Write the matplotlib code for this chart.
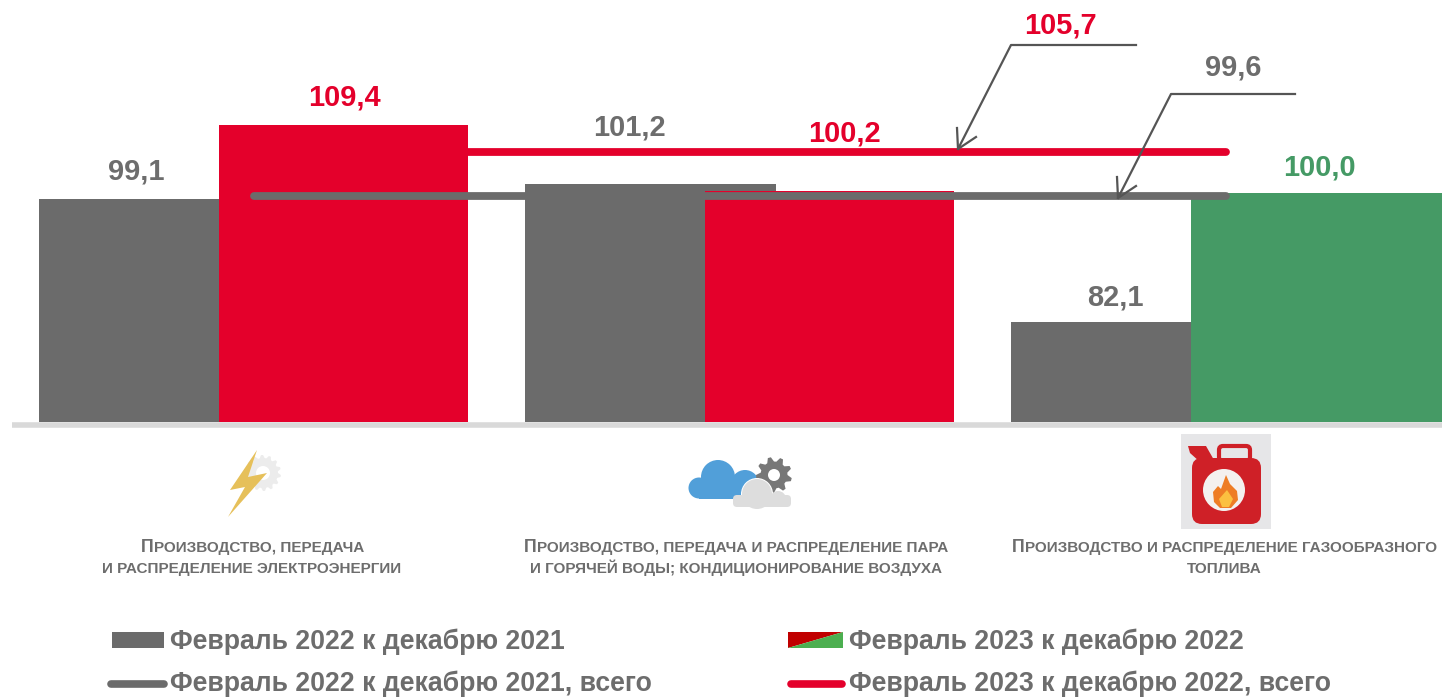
import numpy as np
import matplotlib
matplotlib.use("Agg")
import matplotlib.pyplot as plt
from matplotlib.patches import Polygon, Circle, Rectangle, FancyBboxPatch

plt.rcParams['font.family'] = ['Liberation Sans', 'DejaVu Sans']

# data
groups = [0, 1, 2]
gray_values = [99.1, 101.2, 82.1]
color_values = [109.4, 100.2, 100.0]
gray_labels = ['99,1', '101,2', '82,1']
color_labels = ['109,4', '100,2', '100,0']
total_2022 = 99.6
total_2023 = 105.7
total_2022_label = '99,6'
total_2023_label = '105,7'
legend_labels = ['Февраль 2022 к декабрю 2021', 'Февраль 2023 к декабрю 2022',
                 'Февраль 2022 к декабрю 2021, всего', 'Февраль 2023 к декабрю 2022, всего']
category_lines = [['Производство, передача', 'и распределение электроэнергии'],
                  ['Производство, передача и распределение пара', 'и горячей воды; кондиционирование воздуха'],
                  ['Производство и распределение газообразного', 'топлива']]

GRAY = '#6b6b6b'
RED = '#e4002b'
GREEN = '#459a65'
TEXT = '#6d6d6d'
bar_colors = [RED, RED, GREEN]

fig = plt.figure(figsize=(14.42, 6.97), dpi=100)

# value axes: x in category steps, y in index values
ax = fig.add_axes([0, 0, 1, 1])
step = 486
x0 = 164.5
ax.set_xlim(-x0 / step, (1442 - x0) / step)
ax.set_ylim(100 - 504.2 / 7.23, 100 + 192.8 / 7.23)
ax.axis('off')

base = 100 - 229.2 / 7.23
x = np.array(groups)
ax.bar(x, np.array(gray_values) - base, 251 / step, bottom=base, color=GRAY, zorder=2)
ax.bar(x + 54.5 / step, np.array(color_values) - base, np.array([249, 249, 251]) / step, bottom=base,
       align='edge', color=bar_colors, zorder=3)
ax.plot([(254 - x0) / step, (1226 - x0) / step], [total_2022, total_2022],
        color=GRAY, lw=5.6, solid_capstyle='round', zorder=5)
ax.plot([(468 - x0) / step, (1226 - x0) / step], [total_2023, total_2023],
        color=RED, lw=5.6, solid_capstyle='round', zorder=4)

# overlay in pixels for text, callouts and icons
ov = fig.add_axes([0, 0, 1, 1])
ov.set_xlim(0, 1442)
ov.set_ylim(697, 0)
ov.axis('off')
ov.patch.set_alpha(0)

ov.plot([12, 1442], [425, 425], color='#d9d9d9', lw=4, solid_capstyle='butt', zorder=1)

lab = dict(fontsize=20.9, fontweight='bold', ha='center', va='center')
for xp, yp, s in zip([136, 629, 1115], [171, 128, 297], gray_labels):
    ov.text(xp, yp, s, color=TEXT, **lab)
for xp, yp, s, c in zip([344, 844, 1319], [97, 134, 168], color_labels, bar_colors):
    ov.text(xp, yp, s, color=c, **lab)
ov.text(1060, 25, total_2023_label, color=RED, **lab)
ov.text(1233, 67, total_2022_label, color=TEXT, **lab)

# callouts
ov.plot([1136, 1011, 958], [45, 45, 149], color='#555555', lw=1.6, zorder=6)
ov.plot([1295, 1171, 1118], [94, 94, 198], color='#555555', lw=1.6, zorder=6)
for tipx, tipy in [(958, 149), (1118, 198)]:
    ov.plot([tipx - 1, tipx, tipx + 18], [tipy - 21, tipy, tipy - 12], color='#555555', lw=1.6, zorder=6)


def caps_line(xc, y, s, big_first):
    # fake small caps, first letter bigger
    parts = []
    r = fig.canvas.get_renderer()
    if big_first:
        parts.append(ov.text(xc, y, s[0].upper(), fontsize=12.7, fontweight='bold', color=TEXT, va='baseline'))
        s = s[1:]
    parts.append(ov.text(xc, y, s.upper(), fontsize=11, fontweight='bold', color=TEXT, va='baseline'))
    ws = [p.get_window_extent(r).width for p in parts]
    left = xc - sum(ws) / 2
    for p, wd in zip(parts, ws):
        p.set_x(left)
        left += wd + 0.5


for xc, lines in zip([252, 735.5, 1224], category_lines):
    caps_line(xc, 552, lines[0], True)
    caps_line(xc, 573, lines[1], False)

# legend
ov.add_patch(Rectangle((112, 632), 52, 16, color=GRAY, lw=0))
ov.plot([111, 164], [684, 684], color=GRAY, lw=5.5, solid_capstyle='round')
ov.add_patch(Polygon([(788, 632), (843, 632), (788, 648)], color='#c00000', lw=0))
ov.add_patch(Polygon([(843, 632), (843, 648), (788, 648)], color='#4caf50', lw=0))
ov.plot([791, 842], [684, 684], color=RED, lw=5.5, solid_capstyle='round')
for xp, yp, s in zip([170, 849, 170, 849], [642, 642, 684, 684], legend_labels):
    ov.text(xp, yp, s, fontsize=19.2, fontweight='bold', color=TEXT, ha='left', va='center')


def gear(cx, cy, r_out, r_in, r_hole, color, n=10, z=7):
    a = np.linspace(0, 2 * np.pi, n * 4, endpoint=False)
    rr = np.tile([r_in, r_out, r_out, r_in], n)
    pts = np.c_[cx + rr * np.cos(a), cy + rr * np.sin(a)]
    ov.add_patch(Polygon(pts, color=color, lw=0, zorder=z))
    ov.add_patch(Circle((cx, cy), r_hole, color='white', lw=0, zorder=z + 1))


# lightning icon
gear(263, 473, 18, 15, 7, '#ececec', n=14)
ov.add_patch(Polygon([(257, 450), (230, 490), (245, 487), (228, 517), (267, 473), (248, 477)],
                     color='#e6c05a', lw=0, zorder=9))

# cloud icon
for cx, cy, r in [(718, 477, 17), (699, 488, 10.5), (745, 484, 14)]:
    ov.add_patch(Circle((cx, cy), r, color='#519fd9', lw=0, zorder=7))
ov.add_patch(Rectangle((699, 484), 50, 14.5, color='#519fd9', lw=0, zorder=7))
gear(774, 475, 18, 13.5, 6, '#777777', n=9, z=7)
for cx, cy, r, c in [(757, 494, 16, 'white'), (757, 494, 15, '#dddddd'), (778, 499, 8, '#dddddd')]:
    ov.add_patch(Circle((cx, cy), r, color=c, lw=0, zorder=9))
ov.add_patch(FancyBboxPatch((733, 495), 58, 12, boxstyle='round,pad=0,rounding_size=4',
                            color='#dddddd', lw=0, zorder=9))

# canister icon
ov.add_patch(Rectangle((1181, 434), 90, 95, color='#e6e6e8', lw=0, zorder=6))
ov.add_patch(FancyBboxPatch((1192, 458), 69, 66, boxstyle='round,pad=0,rounding_size=10',
                            color='#cf2027', lw=0, zorder=7))
ov.add_patch(Polygon([(1188, 446), (1206, 446), (1214, 460), (1200, 462), (1190, 453)],
                     color='#cf2027', lw=0, zorder=7))
ov.add_patch(FancyBboxPatch((1219, 446), 31, 15, boxstyle='round,pad=0,rounding_size=4',
                            facecolor='none', edgecolor='#cf2027', lw=3, zorder=7))
ov.add_patch(Circle((1224, 490), 21, color='#f4f1ef', lw=0, zorder=8))
ov.add_patch(Polygon([(1226, 475), (1230, 484), (1237, 491), (1238, 500), (1231, 508), (1220, 508),
                      (1214, 502), (1213, 492), (1218, 486), (1221, 489)], color='#ee7d25', lw=0, zorder=9))
ov.add_patch(Polygon([(1227, 490), (1233, 499), (1229, 507), (1222, 507), (1219, 499)],
                     color='#fbc040', lw=0, zorder=10))

fig.savefig('out.png', dpi=100)
